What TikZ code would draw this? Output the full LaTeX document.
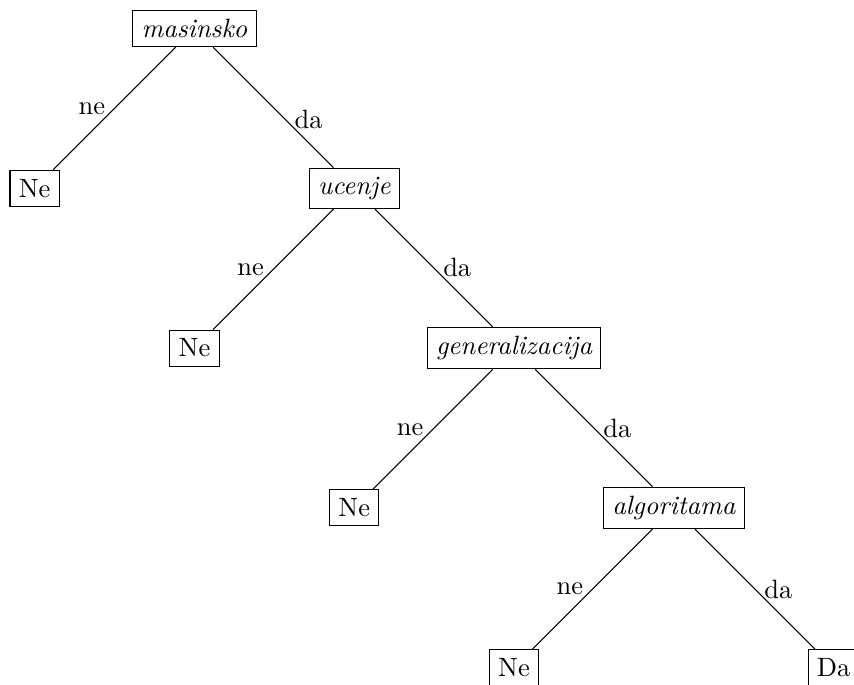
\documentclass[tikz,border=0pt]{standalone}
\usepackage{tikz}
\usetikzlibrary{positioning}

\begin{document}
\begin{tikzpicture}[
            node distance=2.12cm, on grid,
            word/.style={rectangle, draw, font=\itshape},
            leaf/.style={rectangle, draw},
            lbl/.style ={midway}
        ]
            \useasboundingbox (-2.58,0.378) rectangle (8.75,-8.71);

            \node[word] (mas) at (0,0) {masinsko};
            \node[leaf, below left=2.12cm and 2.12cm of mas]  (ne1) {Ne};
            \node[word, below right=2.12cm and 2.12cm of mas] (uce) {ucenje};
            \node[leaf, below left=2.12cm and 2.12cm of uce]  (ne2) {Ne};
            \node[word, below right=2.12cm and 2.12cm of uce] (gen) {generalizacija};
            \node[leaf, below left=2.12cm and 2.12cm of gen]  (ne3) {Ne};
            \node[word, below right=2.12cm and 2.12cm of gen] (alg) {algoritama};
            \node[leaf, below left=2.12cm and 2.12cm of alg]  (ne4) {Ne};
            \node[leaf, below right=2.12cm and 2.12cm of alg] (da4) {Da};

            \draw (mas) -- node[lbl, left]{ne}  (ne1);
            \draw (mas) -- node[lbl, pos=0.6, right]{da} (uce);
            \draw (uce) -- node[lbl, left]{ne}  (ne2);
            \draw (uce) -- node[lbl, right]{da} (gen);
            \draw (gen) -- node[lbl, left]{ne}  (ne3);
            \draw (gen) -- node[lbl, right]{da} (alg);
            \draw (alg) -- node[lbl, left]{ne}  (ne4);
            \draw (alg) -- node[lbl, right]{da} (da4);
        \end{tikzpicture}
\end{document}
